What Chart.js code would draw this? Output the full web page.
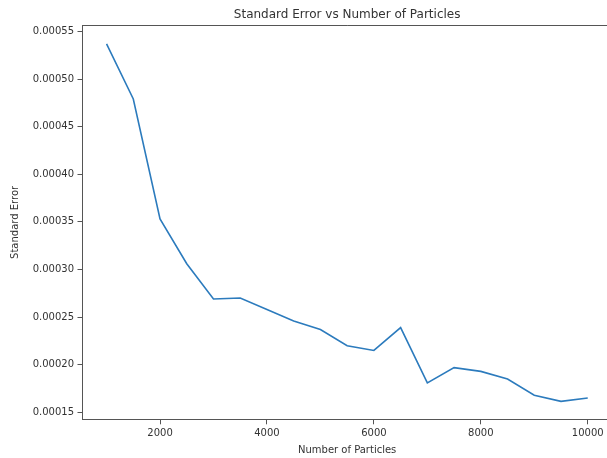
<!DOCTYPE html>
<html>
<head>
<meta charset="utf-8">
<title>Standard Error vs Number of Particles</title>
<script src="https://cdn.jsdelivr.net/npm/chart.js@4/dist/chart.umd.min.js"></script>
<style>
  html, body { margin:0; padding:0; background:#fff; overflow:hidden; }
  #wrap { width:620px; height:458px; }
</style>
</head>
<body>
<div id="wrap"><canvas id="errChart" width="620" height="458"></canvas></div>
<script>
// particle counts and the measured standard error for each run
const particleCounts = [1000,1500,2000,2500,3000,3500,4000,4500,5000,5500,
                        6000,6500,7000,7500,8000,8500,9000,9500,10000];
const stdErrors = [0.000537,0.000479,0.000353,0.000306,0.000269,0.000270,0.000258,
                   0.000246,0.000237,0.000220,0.000215,0.000239,0.000181,0.000197,
                   0.000193,0.000185,0.000168,0.0001615,0.000165];

const xTicks = [2000,4000,6000,8000,10000];
const yTicks = [0.00015,0.00020,0.00025,0.00030,0.00035,0.00040,0.00045,0.00050,0.00055];
const chartTitle = 'Standard Error vs Number of Particles';

const axisColor = '#555';
const textColor = '#333';
const font = {family:'DejaVu Sans', size:10};

// top spine plus a title centred over the axes
const frame = {
  id:'frame',
  afterDraw(chart){
    const {ctx, chartArea:a} = chart;
    ctx.save();
    ctx.strokeStyle = axisColor;
    ctx.lineWidth = 1;
    ctx.beginPath();
    ctx.moveTo(a.left, a.top);
    ctx.lineTo(a.right, a.top);
    ctx.stroke();
    ctx.fillStyle = textColor;
    ctx.font = '12px "DejaVu Sans"';
    ctx.textAlign = 'center';
    ctx.textBaseline = 'middle';
    ctx.fillText(chartTitle, (a.left + a.right) / 2, a.top - 10.5);
    ctx.restore();
  }
};

const ctx = document.getElementById('errChart').getContext('2d');
new Chart(ctx, {
  type:'line',
  data:{
    datasets:[{
      data: particleCounts.map((n,i)=>({x:n, y:stdErrors[i]})),
      borderColor:'#2c7bbd',
      borderWidth:1.6,
      pointRadius:0,
      tension:0,
      fill:false
    }]
  },
  options:{
    responsive:false,
    animation:false,
    devicePixelRatio:1,
    layout:{padding:{left:0, right:8.2, top:25.5, bottom:0}},
    plugins:{
      legend:{display:false},
      tooltip:{enabled:false},
      title:{display:false}
    },
    scales:{
      x:{
        type:'linear',
        min:550, max:10450,
        afterBuildTicks: s => { s.ticks = xTicks.map(v=>({value:v})); },
        afterFit: s => { s.height = 38.7; s.paddingLeft = 0; s.paddingRight = 0; },
        grid:{drawOnChartArea:false, drawTicks:true, tickLength:5, color:axisColor},
        border:{display:true, color:axisColor, width:1},
        ticks:{color:textColor, font, padding:3, maxRotation:0, callback: v => String(v)},
        title:{display:true, text:'Number of Particles', color:textColor, font, padding:{top:0, bottom:2}}
      },
      y:{
        min:0.0001427, max:0.0005562,
        afterBuildTicks: s => { s.ticks = yTicks.map(v=>({value:v})); },
        afterFit: s => { s.width = 82.5; s.paddingTop = 0; s.paddingBottom = 0; },
        grid:{drawOnChartArea:false, drawTicks:true, tickLength:5, color:axisColor},
        border:{display:true, color:axisColor, width:1},
        ticks:{color:textColor, font, padding:3.5, callback: v => v.toFixed(5)},
        title:{display:true, text:'Standard Error', color:textColor, font, padding:{top:9, bottom:0}}
      }
    }
  },
  plugins:[frame]
});
</script>
</body>
</html>
